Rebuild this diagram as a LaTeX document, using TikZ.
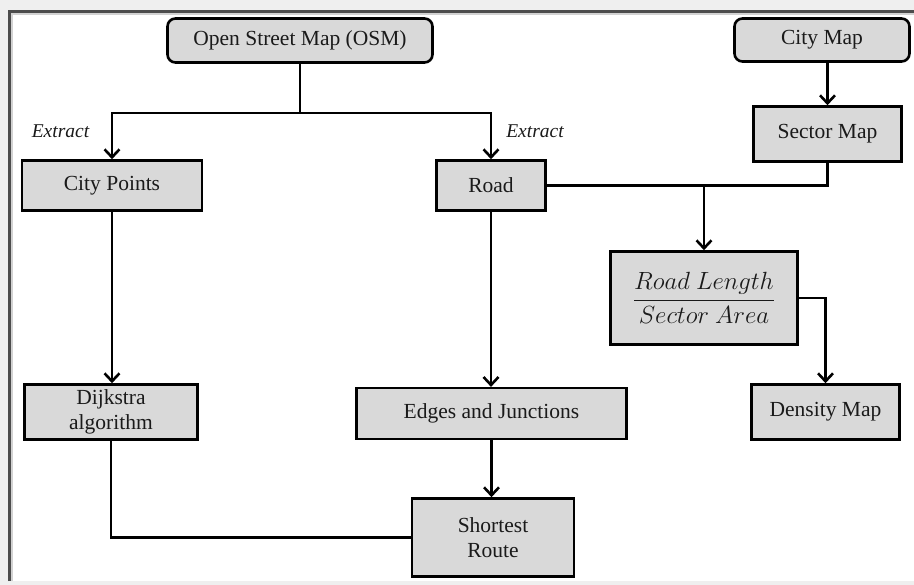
\documentclass[tikz,border=0pt]{standalone}
\usepackage{amsmath}
\usepackage{fontspec}
\setmainfont{Liberation Serif}
\usetikzlibrary{positioning,arrows.meta}
\definecolor{boxgray}{HTML}{D9D9D9}
\definecolor{inkblack}{HTML}{1A1A1A}
\definecolor{framegray}{HTML}{EFEFEF}
\tikzset{
  procbox/.style={rectangle,draw=black,fill=boxgray,line width=2.6pt,text=inkblack,align=center,inner sep=2pt,font=\fontsize{21.5}{25.5}\selectfont},
  roundbox/.style={procbox,rounded corners=8pt},
  conn/.style={line width=2.4pt,draw=black},
  arr/.style={conn,-{Straight Barb[length=8pt,width=15pt,line width=2.6pt]}},
  notelabel/.style={font=\fontsize{19.5}{22}\selectfont\itshape,text=inkblack}
}

\begin{document}
\begin{tikzpicture}[x=1pt,y=-1pt]
\useasboundingbox (0,0) rectangle (914,585);
\fill[framegray] (0,0) rectangle (914,585);
\fill[white] (9,11) rectangle (914,581);
\draw[gray!60!black,line width=2.5pt] (9.5,581) -- (9.5,11.5) -- (914,11.5);
\draw[gray!35,line width=2pt] (12,581) -- (12,14) -- (914,14);

\node[roundbox,minimum width=265pt,minimum height=44pt] (osm) at (300,40.5) {Open Street Map (OSM)};
\node[roundbox,minimum width=175pt,minimum height=43pt] (citymap) at (822,40) {City Map};
\node[procbox,minimum width=148pt,minimum height=55pt] (sector) at (827.5,134) {Sector Map};
\node[procbox,minimum width=180pt,minimum height=50pt] (citypts) at (112,185.5) {City Points};
\node[procbox,minimum width=109pt,minimum height=50pt] (road) at (491,185.5) {Road};
\node[procbox,minimum width=187pt,minimum height=93pt,font=\fontsize{24}{28}\selectfont] (ratio) at (704,298)
  {$\dfrac{Road\ Length}{Sector\ Area}$};
\node[procbox,minimum width=148pt,minimum height=55pt] (density) at (825.5,412) {Density Map};
\node[procbox,minimum width=173pt,minimum height=55pt] (dijkstra) at (111,412) {Dijkstra\\algorithm};
\node[procbox,minimum width=270pt,minimum height=51pt] (edges) at (491.5,413.7) {Edges and Junctions};
\node[procbox,minimum width=162pt,minimum height=78pt] (shortest) at (493,537.5) {Shortest\\Route};

\node[notelabel] (extractL) at (60.5,131) {Extract};
\node[notelabel] (extractR) at (535,131) {Extract};

\coordinate (split) at (300,113);
\draw[conn] (osm.south) -- (split);
\draw[arr] (split) -| (citypts.north);
\draw[arr] (split) -| (road.north);
\draw[arr] (citymap.south -| sector.north) -- (sector.north);
\draw[conn] (road.east) -| (sector.south);
\draw[arr] (ratio.north |- road.east) -- (ratio.north);
\draw[arr] (ratio.east) -| (density.north);
\draw[arr] (citypts.south) -- (citypts.south |- dijkstra.north);
\draw[arr] (road.south) -- (road.south |- edges.north);
\draw[arr] (edges.south) -- (edges.south |- shortest.north);
\draw[conn] (dijkstra.south) |- (shortest.west);
\end{tikzpicture}
\end{document}
